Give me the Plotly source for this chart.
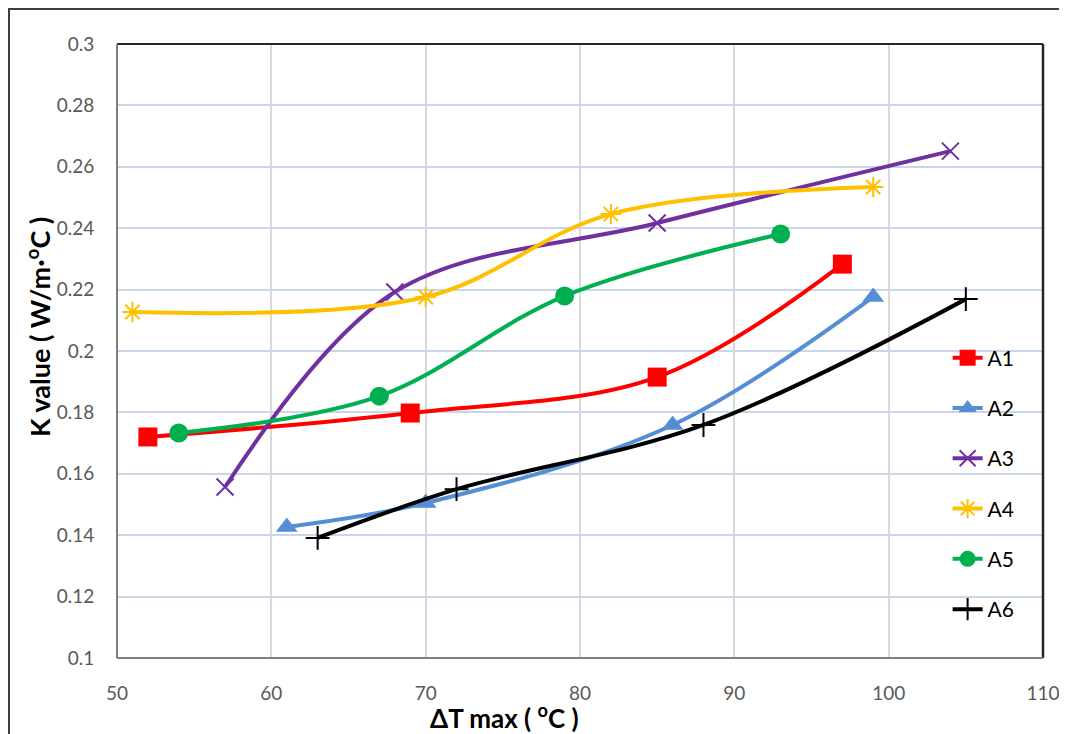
import plotly.graph_objects as go

series_names = ["A1", "A2", "A3", "A4", "A5", "A6"]
x_values = {
    "A1": [52, 69, 85, 97],
    "A2": [61, 70, 86, 99],
    "A3": [57, 68, 85, 104],
    "A4": [51, 70, 82, 99],
    "A5": [54, 67, 79, 93],
    "A6": [63, 72, 88, 105],
}
y_values = {
    "A1": [0.1720, 0.1798, 0.1915, 0.2283],
    "A2": [0.1427, 0.1505, 0.1759, 0.2176],
    "A3": [0.1557, 0.2192, 0.2417, 0.2651],
    "A4": [0.2127, 0.2176, 0.2446, 0.2534],
    "A5": [0.1733, 0.1853, 0.2179, 0.2381],
    "A6": [0.1391, 0.1550, 0.1759, 0.2169],
}
x_ticks = [50, 60, 70, 80, 90, 100, 110]
y_ticks = [0.1, 0.12, 0.14, 0.16, 0.18, 0.2, 0.22, 0.24, 0.26, 0.28, 0.3]
y_tick_labels = ["0.1", "0.12", "0.14", "0.16", "0.18", "0.2", "0.22", "0.24", "0.26", "0.28", "0.3"]
x_title = "<b>ΔT max ( <sup>o</sup>C )</b>"
y_title = "<b>K value ( W/m·<sup>o</sup>C )</b>"

styles = {
    "A1": dict(color="#FF0000", symbol="square", size=19, lw=None),
    "A2": dict(color="#558ED5", symbol="triangle-up", size=19, lw=None),
    "A3": dict(color="#7030A0", symbol="x-thin", size=17, lw=2),
    "A4": dict(color="#FFC000", symbol="asterisk", size=17, lw=2),
    "A5": dict(color="#00B050", symbol="circle", size=19, lw=None),
    "A6": dict(color="#000000", symbol="cross-thin", size=17, lw=2),
}

FONT = "Lato, 'Liberation Sans', sans-serif"

fig = go.Figure()
for name in series_names:
    s = styles[name]
    marker = dict(symbol=s["symbol"], size=s["size"], color=s["color"])
    if s["lw"]:
        marker["line"] = dict(color=s["color"], width=s["lw"])
    fig.add_trace(go.Scatter(
        x=x_values[name], y=y_values[name], name=name, mode="lines+markers",
        line=dict(color=s["color"], width=4, shape="spline", smoothing=1.0),
        marker=marker, legendgroup=name,
    ))

# page body has an 8px margin, so the figure starts at (8, 8)
fig.update_layout(
    width=1059, height=726,
    margin=dict(l=109, r=24, t=36, b=76),
    paper_bgcolor="white", plot_bgcolor="white",
    font=dict(family=FONT, size=19, color="#595959"),
    showlegend=True,
    legend=dict(x=0.897, y=0.522, xanchor="left", yanchor="top",
                font=dict(family=FONT, size=21, color="#000000"),
                tracegroupgap=20, traceorder="grouped", bgcolor="rgba(0,0,0,0)"),
    xaxis=dict(range=[50, 110], tickvals=x_ticks, showgrid=True, gridcolor="#D9D9D9", gridwidth=1.5,
               zeroline=False, ticks="outside", ticklen=18, tickcolor="rgba(0,0,0,0)", automargin=False,
               tickfont=dict(family=FONT, size=19, color="#595959")),
    yaxis=dict(range=[0.1, 0.3], tickvals=y_ticks, ticktext=y_tick_labels, showgrid=True, gridcolor="#C9D6EA", gridwidth=1.5,
               zeroline=False, ticks="outside", ticklen=18, tickcolor="rgba(0,0,0,0)", automargin=False,
               tickfont=dict(family=FONT, size=19, color="#595959")),
)

# axis titles (positioned like the reference, off-centre)
fig.add_annotation(xref="paper", yref="paper", x=(504 - 117) / 926, y=(658 - 716) / 614,
                   text=x_title, showarrow=False, xanchor="center", yanchor="middle",
                   font=dict(family=FONT, size=26, color="#000000"))
fig.add_annotation(xref="paper", yref="paper", x=(38 - 117) / 926, y=(658 - 327) / 614,
                   text=y_title, showarrow=False, xanchor="center", yanchor="middle", textangle=-90,
                   font=dict(family=FONT, size=27, color="#000000"))

# plot frame
fig.add_shape(type="line", xref="paper", yref="paper", x0=0, x1=1, y0=1, y1=1, line=dict(color="#262626", width=2))
fig.add_shape(type="line", xref="paper", yref="paper", x0=1, x1=1, y0=0, y1=1, line=dict(color="#262626", width=2.5))
fig.add_shape(type="line", xref="paper", yref="paper", x0=0, x1=0, y0=0, y1=1, line=dict(color="#7F7F7F", width=2))
fig.add_shape(type="line", xref="paper", yref="paper", x0=0, x1=1, y0=0, y1=0, line=dict(color="#7F7F7F", width=2))
# outer chart border
fig.add_shape(type="rect", xref="paper", yref="paper", x0=(9 - 117) / 926, x1=1.2, y0=-0.3, y1=(658 - 9) / 614,
              line=dict(color="#404040", width=2))

fig.write_html("out.html")
